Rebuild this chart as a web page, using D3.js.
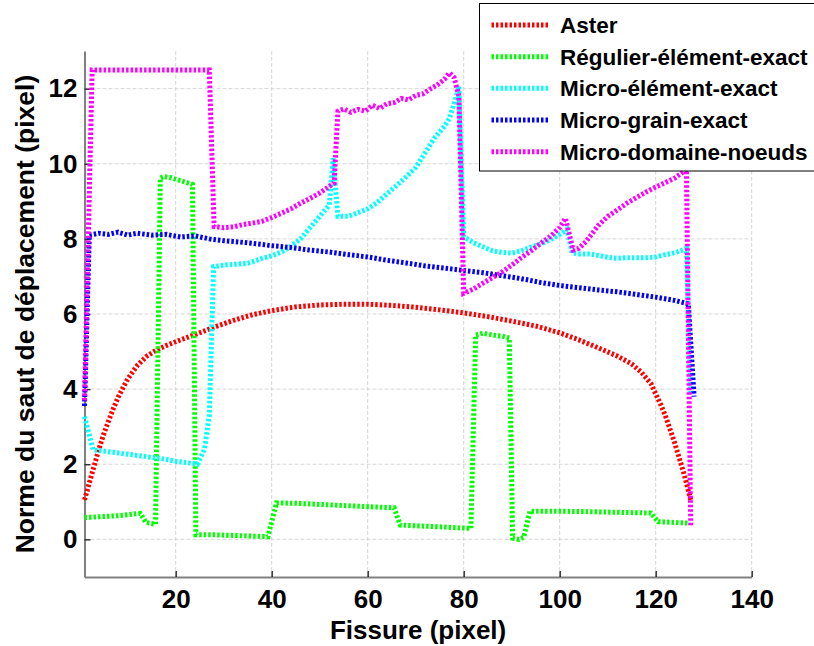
<!DOCTYPE html>
<html><head><meta charset="utf-8">
<script src="https://cdnjs.cloudflare.com/ajax/libs/d3/7.8.5/d3.min.js"></script>
<style>
html,body{margin:0;padding:0;background:#fff;}
svg{display:block;font-family:"Liberation Sans",Arial,sans-serif;}
</style></head>
<body>
<svg id="chart" width="814" height="646"></svg>
<script>
const xTicks = [20, 40, 60, 80, 100, 120, 140];
const yTicks = [0, 2, 4, 6, 8, 10, 12];
const seriesNames = ["Aster", "Régulier-élément-exact", "Micro-élément-exact", "Micro-grain-exact", "Micro-domaine-noeuds"];
const seriesColors = ["#ff0000", "#00ff00", "#00ffff", "#0000ff", "#ff00ff"];

const aster = [[1,1.05],[2,1.5],[3,1.95],[4,2.4],[5,2.8],[6,3.15],[7,3.48],[8,3.78],[9,4.03],[10,4.27],[12,4.63],[14,4.88],[16,5.04],[18,5.16],[20,5.26],[22,5.36],[25,5.5],[28,5.65],[32,5.83],[36,5.98],[40,6.09],[45,6.19],[50,6.24],[55,6.26],[60,6.26],[65,6.23],[70,6.18],[75,6.11],[80,6.03],[85,5.93],[90,5.81],[95,5.68],[100,5.5],[104,5.31],[108,5.1],[112,4.88],[115,4.67],[117,4.45],[119,4.15],[121,3.6],[122,3.3],[124,2.55],[126,1.7],[127.3,1.05]];

const regulier = [[1,0.58],[4,0.6],[8,0.63],[12.6,0.69],[13.8,0.45],[15.8,0.4],[16.8,9.62],[17.5,9.66],[19,9.63],[21,9.55],[23.5,9.45],[24.2,0.12],[28,0.12],[33,0.1],[37,0.08],[39.2,0.07],[41,0.97],[45,0.96],[50,0.93],[55,0.9],[60,0.87],[65.5,0.84],[66.8,0.38],[72,0.35],[77,0.32],[81.5,0.29],[82.5,5.44],[84,5.49],[86,5.44],[88,5.41],[89.5,5.36],[90.2,0.03],[91.5,0.0],[92.5,0.05],[93.8,0.75],[98,0.75],[105,0.74],[112,0.72],[119,0.7],[120.5,0.47],[124,0.45],[127,0.43]];

const microElement = [[1,3.27],[2.8,2.38],[5,2.35],[8,2.3],[11,2.25],[14,2.2],[17,2.15],[20,2.08],[23,2.03],[24.5,2.0],[26,2.4],[27,3.3],[27.9,7.26],[30,7.3],[32,7.32],[35,7.35],[38,7.48],[40,7.55],[42,7.65],[44,7.8],[46,8.0],[48,8.3],[50,8.6],[52,8.9],[52.8,10.15],[53.8,8.6],[56,8.6],[58,8.7],[60,8.8],[62,8.97],[64,9.2],[66,9.42],[68,9.65],[70,9.9],[72,10.3],[74,10.7],[76,11.0],[77,11.2],[78,11.6],[79,12.05],[80,8.06],[82,7.9],[84,7.79],[86,7.68],[88,7.64],[90,7.62],[92,7.68],[94,7.78],[96,7.86],[98,7.97],[100,8.12],[101.5,8.25],[102.6,7.62],[104,7.6],[106,7.6],[108,7.56],[110,7.51],[112,7.48],[114,7.5],[116,7.5],[118,7.5],[120,7.52],[122,7.58],[124,7.63],[126.4,7.74],[127.3,3.9]];

const microGrain = [[1,3.55],[2,8.1],[4,8.15],[6,8.12],[8,8.18],[10,8.1],[12,8.15],[15,8.1],[18,8.12],[21,8.05],[24,8.08],[27,8.0],[30,7.95],[33,7.92],[36,7.88],[40,7.82],[44,7.77],[48,7.7],[52,7.65],[56,7.58],[60,7.52],[64,7.43],[68,7.36],[72,7.28],[76,7.22],[80,7.16],[84,7.1],[88,7.02],[92,6.94],[96,6.84],[100,6.76],[104,6.7],[108,6.64],[112,6.59],[116,6.52],[120,6.45],[124,6.36],[126.8,6.27],[128,3.8]];

const microDomaine = [[1,3.7],[2.6,12.5],[5,12.5],[10,12.5],[15,12.5],[20,12.5],[25,12.5],[27,12.5],[28,8.33],[30,8.3],[32,8.32],[34,8.38],[36,8.42],[38,8.47],[40,8.57],[42,8.68],[44,8.8],[46,8.95],[48,9.08],[50,9.22],[52,9.4],[53,9.48],[53.8,11.4],[55,11.46],[56.5,11.37],[58,11.45],[59.5,11.4],[61,11.56],[62.5,11.47],[64,11.6],[65.5,11.63],[67,11.74],[68.5,11.7],[70,11.82],[71.5,11.86],[73,11.99],[74.5,12.1],[76,12.25],[77,12.42],[78,12.3],[79,11.8],[80,6.55],[82,6.66],[84,6.82],[86,6.97],[88,7.12],[90,7.3],[92,7.5],[94,7.68],[96,7.88],[98,8.06],[100,8.3],[101.2,8.55],[102.8,7.7],[104,7.75],[105.5,7.93],[108,8.35],[110,8.6],[112,8.77],[114,8.95],[116,9.1],[118,9.25],[120,9.38],[122,9.5],[124,9.62],[126.4,9.85],[127.3,0.35]];

const allSeries = [aster, regulier, microElement, microGrain, microDomaine];

const svg = d3.select("#chart");
const x = d3.scaleLinear().domain([1, 140]).range([84.5, 751.7]);
const y = d3.scaleLinear().domain([-1, 13]).range([576.9, 51.1]);

// grid
const grid = svg.append("g");
grid.selectAll(".vg").data(xTicks).enter().append("line")
  .attr("x1", d => x(d)).attr("x2", d => x(d)).attr("y1", y(-1)).attr("y2", y(13))
  .attr("stroke", "#d6d6d6").attr("stroke-width", 1).attr("stroke-dasharray", "4,2");
grid.selectAll(".hg").data(yTicks).enter().append("line")
  .attr("x1", x(1)).attr("x2", x(140)).attr("y1", d => y(d)).attr("y2", d => y(d))
  .attr("stroke", "#d6d6d6").attr("stroke-width", 1).attr("stroke-dasharray", "4,2");

// axes
const xAxis = d3.axisBottom(x).tickValues(xTicks).tickSizeInner(-6).tickSizeOuter(0).tickPadding(13);
const yAxis = d3.axisLeft(y).tickValues(yTicks).tickSizeInner(-6).tickSizeOuter(0).tickPadding(7);
const gx = svg.append("g").attr("transform", `translate(0,${y(-1)})`).call(xAxis);
const gy = svg.append("g").attr("transform", `translate(${x(1)},0)`).call(yAxis);
[gx, gy].forEach(g => {
  g.select(".domain").attr("stroke", "#808080").attr("stroke-width", 2);
  g.selectAll(".tick line").attr("stroke", "#333").attr("stroke-width", 1.5);
  g.selectAll(".tick text").attr("fill", "#000").style("font-size", "26px").style("font-weight", "bold")
    .style("font-family", '"Liberation Sans", Arial, sans-serif');
});

// lines
const line = d3.line().x(d => x(d[0])).y(d => y(d[1]));
const plot = svg.append("g");
allSeries.forEach((s, i) => {
  plot.append("path").datum(s).attr("d", line)
    .attr("fill", "none").attr("stroke", seriesColors[i]).attr("stroke-width", 5)
    .attr("stroke-dasharray", "2.5,2").attr("stroke-linejoin", "miter");
});

// axis titles
svg.append("text").attr("x", x(70.5)).attr("y", 639).attr("text-anchor", "middle")
  .style("font-size", "26px").style("font-weight", "bold").text("Fissure (pixel)");
svg.append("text").attr("transform", `translate(34,${(y(-1)+y(13))/2}) rotate(-90)`).attr("text-anchor", "middle")
  .style("font-size", "26.5px").style("font-weight", "bold").text("Norme du saut de déplacement (pixel)");

// legend
const lg = svg.append("g");
lg.append("rect").attr("x", 479.5).attr("y", 3.5).attr("width", 340).attr("height", 167.5)
  .attr("fill", "#fff").attr("stroke", "#000").attr("stroke-width", 1);
const rowY = d3.scaleLinear().domain([0, 4]).range([25, 151.7]);
seriesNames.forEach((n, i) => {
  lg.append("line").attr("x1", 491.5).attr("x2", 550).attr("y1", rowY(i)).attr("y2", rowY(i))
    .attr("stroke", seriesColors[i]).attr("stroke-width", 5).attr("stroke-dasharray", "2.5,2");
  lg.append("text").attr("x", 560).attr("y", rowY(i)).attr("dy", "0.36em")
    .style("font-size", "22.5px").style("font-weight", "bold").text(n);
});
</script>
</body></html>
